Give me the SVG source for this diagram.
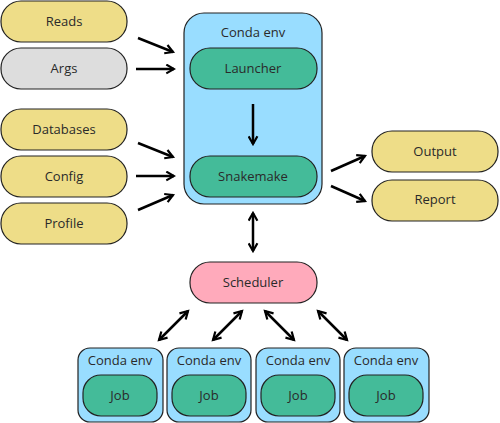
<svg xmlns="http://www.w3.org/2000/svg" width="500" height="423" viewBox="0 0 500 423">
<defs>
<marker id="ah" viewBox="0 0 10 10" refX="8" refY="5" markerWidth="4.4" markerHeight="4.4" orient="auto-start-reverse" markerUnits="strokeWidth">
<path d="M1,1 L8,5 L1,9" fill="none" stroke="#000" stroke-width="2"/>
</marker>
<style>
.n{stroke:#222;stroke-width:1.2}
.y{fill:#EEDD88}.g{fill:#DDDDDD}.b{fill:#99DDFF}.m{fill:#44BB99}.p{fill:#FFAABB}
text{font-family:"Open Sans","Noto Sans",sans-serif;font-size:13px;fill:#2a2a2a;text-anchor:middle}
.c line{stroke:#000;stroke-width:2.5;marker-end:url(#ah)}
.c line.d{marker-start:url(#ah)}
</style>
</defs>
<g id="reads"><rect class="n y" x="1" y="1" width="126" height="41" rx="20"/><text x="64" y="26">Reads</text></g>
<g id="args"><rect class="n g" x="1" y="48" width="126" height="41" rx="20"/><text x="64" y="73">Args</text></g>
<g id="databases"><rect class="n y" x="1" y="109" width="126" height="41" rx="20"/><text x="64" y="134">Databases</text></g>
<g id="config"><rect class="n y" x="1" y="156" width="126" height="41" rx="20"/><text x="64" y="181">Config</text></g>
<g id="profile"><rect class="n y" x="1" y="203" width="126" height="41" rx="20"/><text x="64" y="228">Profile</text></g>
<g id="env-main"><rect class="n b" x="184" y="13" width="138" height="191" rx="20"/><text x="253" y="37">Conda env</text></g>
<g id="launcher"><rect class="n m" x="190" y="48" width="127" height="41" rx="20"/><text x="253" y="73">Launcher</text></g>
<g id="snakemake"><rect class="n m" x="190" y="156" width="127" height="41" rx="20"/><text x="253" y="181">Snakemake</text></g>
<g id="output"><rect class="n y" x="372" y="131" width="126" height="41" rx="20"/><text x="435" y="156">Output</text></g>
<g id="report"><rect class="n y" x="372" y="180" width="126" height="41" rx="20"/><text x="435" y="204">Report</text></g>
<g id="scheduler"><rect class="n p" x="190" y="262" width="127" height="41" rx="20"/><text x="253" y="287">Scheduler</text></g>
<g id="job1"><rect class="n b" x="78" y="348" width="85" height="74" rx="12"/><text x="120" y="365">Conda env</text><rect class="n m" x="83" y="375" width="74" height="41" rx="18"/><text x="120" y="400">Job</text></g>
<g id="job2"><rect class="n b" x="167" y="348" width="84" height="74" rx="12"/><text x="209" y="365">Conda env</text><rect class="n m" x="172" y="375" width="74" height="41" rx="18"/><text x="209" y="400">Job</text></g>
<g id="job3"><rect class="n b" x="256" y="348" width="84" height="74" rx="12"/><text x="298" y="365">Conda env</text><rect class="n m" x="261" y="375" width="74" height="41" rx="18"/><text x="298" y="400">Job</text></g>
<g id="job4"><rect class="n b" x="344" y="348" width="85" height="74" rx="12"/><text x="386" y="365">Conda env</text><rect class="n m" x="349" y="375" width="74" height="41" rx="18"/><text x="386" y="400">Job</text></g>
<g id="connectors" class="c">
<line x1="138" y1="38" x2="173" y2="52"/>
<line x1="136" y1="69" x2="174" y2="69"/>
<line x1="138" y1="143" x2="173" y2="157"/>
<line x1="136" y1="176" x2="174" y2="176"/>
<line x1="138" y1="210" x2="173" y2="195"/>
<line x1="253" y1="104" x2="253" y2="144"/>
<line x1="331" y1="171" x2="365" y2="156"/>
<line x1="331" y1="186" x2="365" y2="201"/>
<line class="d" x1="253" y1="213" x2="253" y2="251"/>
<line class="d" x1="188" y1="311" x2="159" y2="340"/>
<line class="d" x1="242" y1="311" x2="213" y2="340"/>
<line class="d" x1="265" y1="311" x2="294" y2="340"/>
<line class="d" x1="318" y1="311" x2="347" y2="340"/>
</g>
</svg>
